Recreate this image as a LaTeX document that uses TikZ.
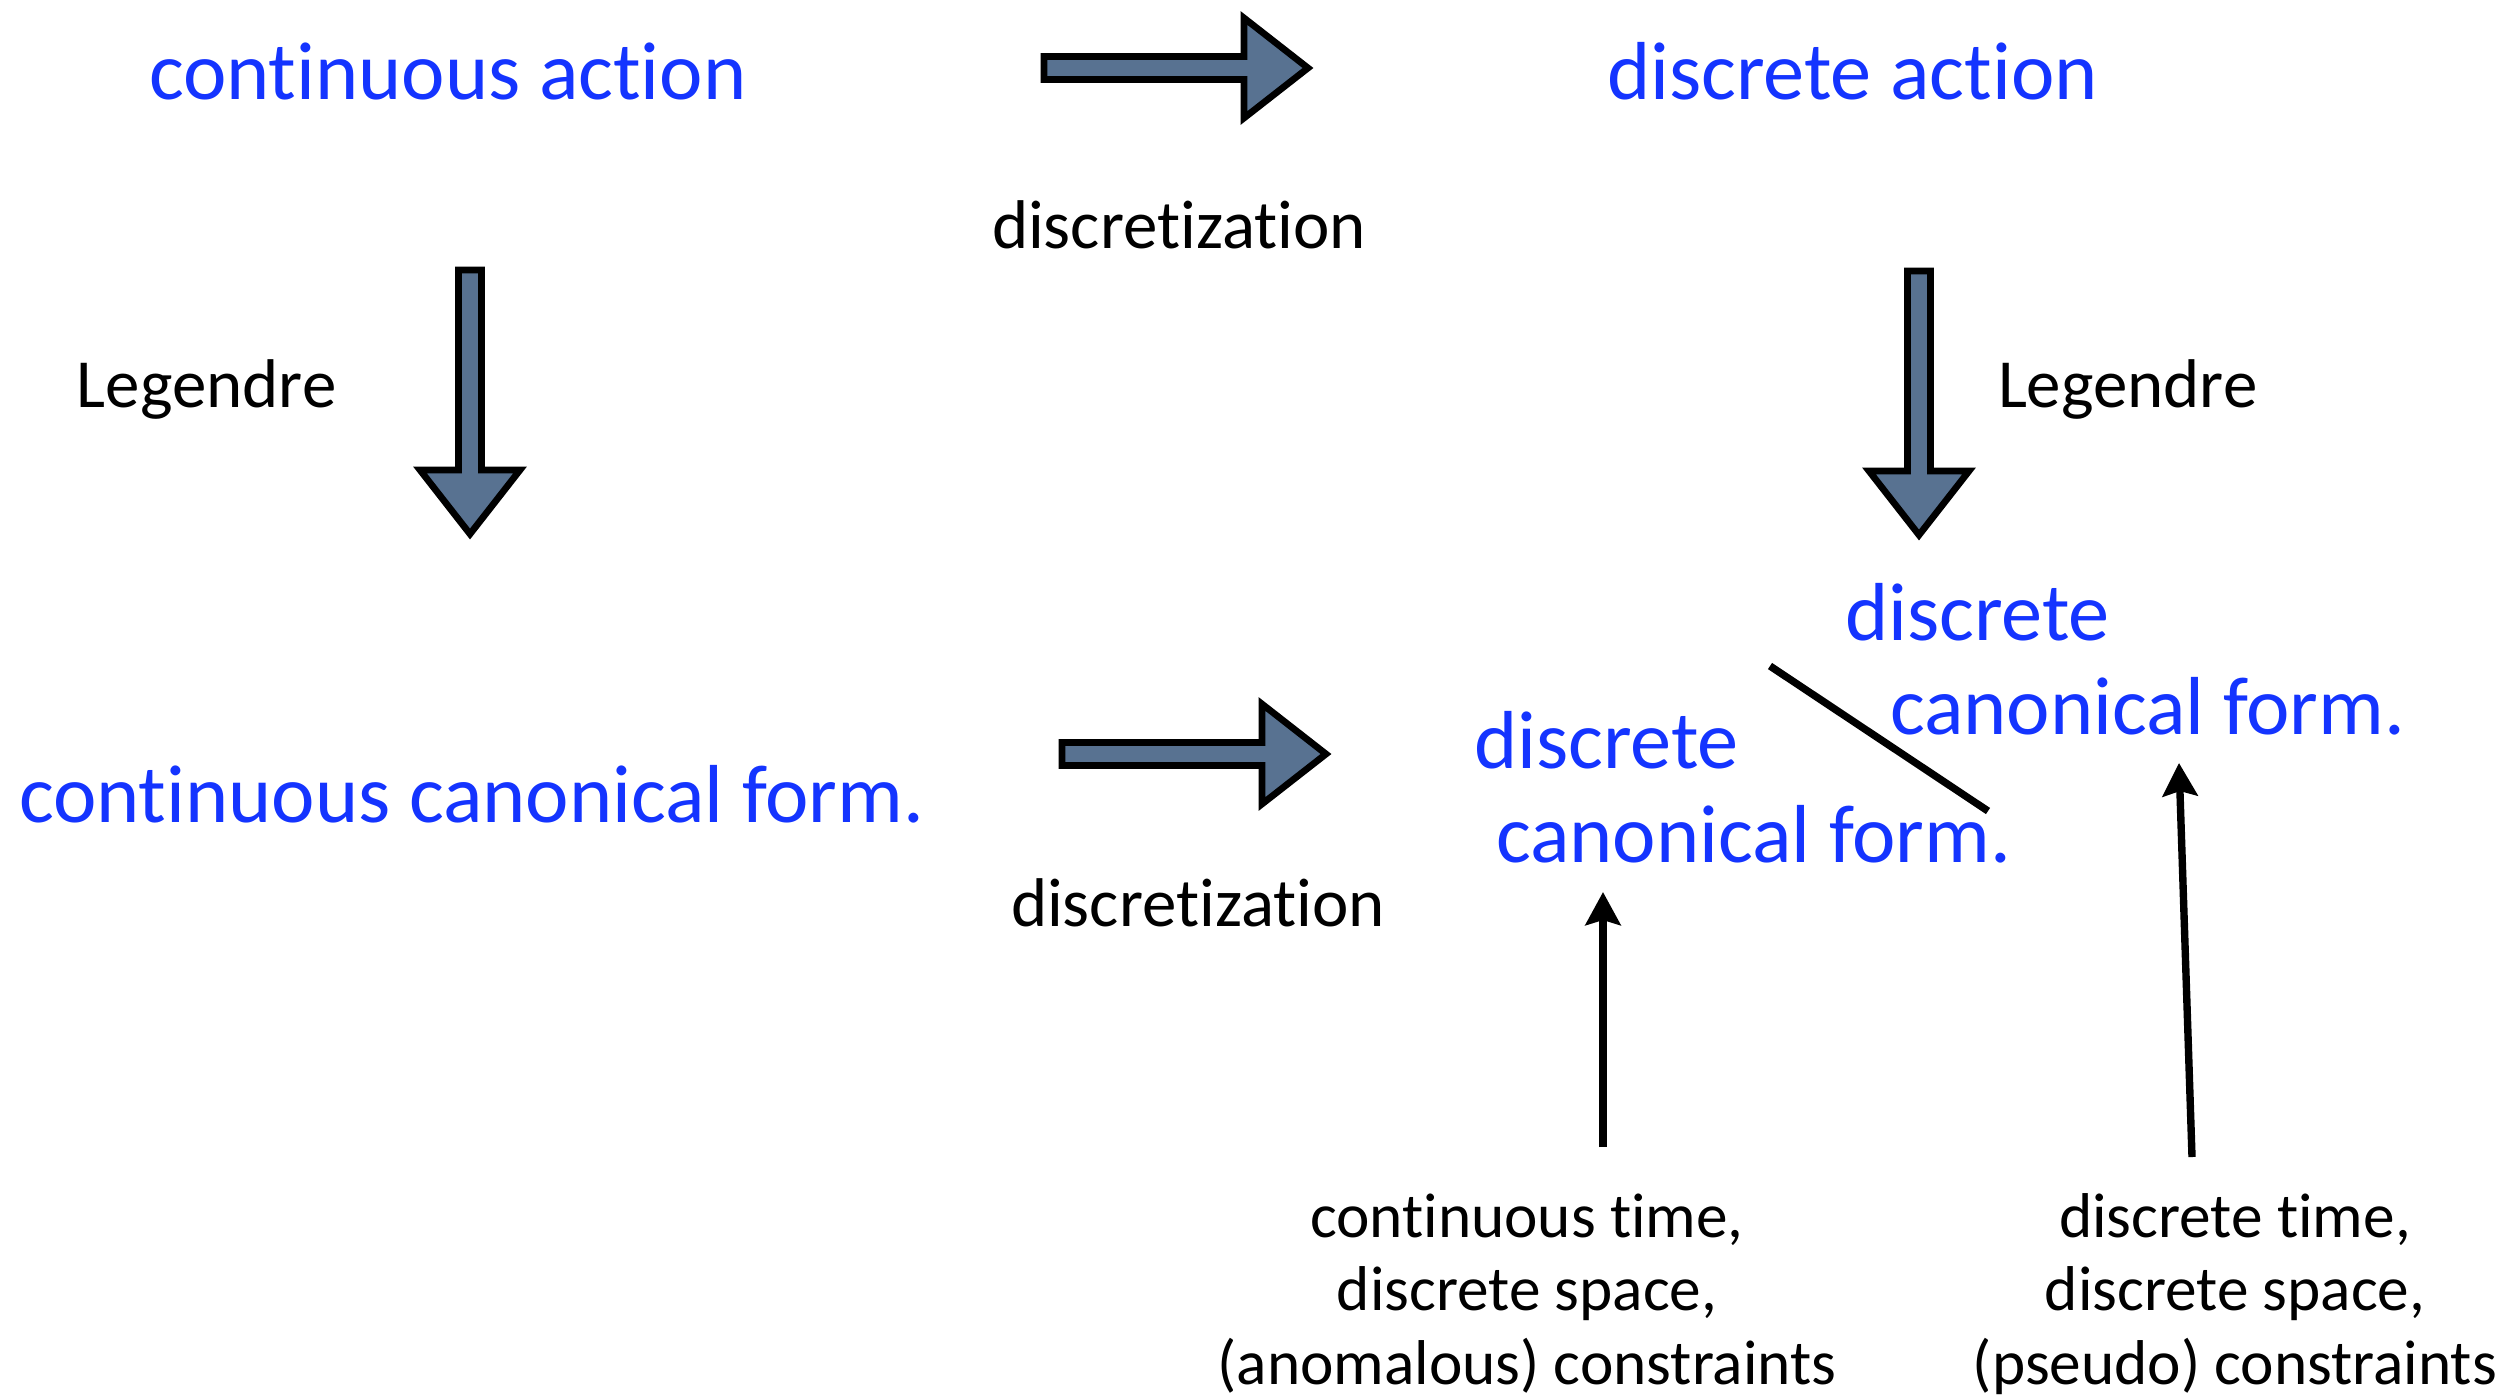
\documentclass[tikz,border=0pt]{standalone}
\usepackage{fontspec}
\setmainfont[Ligatures=NoCommon]{Carlito}
\usetikzlibrary{
    arrows.meta
}
\definecolor{formblue}{RGB}{20,52,255}
\definecolor{slate}{RGB}{88,114,145}
\tikzset{%
    blue text/.style={%
        text=formblue,
        inner sep = 0pt,
        outer sep = 0pt,
        font=\fontsize{23.4}{26.5}\selectfont,
    },
    plain text/.style={%
        text=black,
        inner sep = 0pt,
        outer sep = 0pt,
        font=\fontsize{19.6}{22}\selectfont,
    },
    note text/.style={%
        text=black,
        inner sep = 0pt,
        outer sep = 0pt,
        align=center,
        font=\fontsize{18}{20.8}\selectfont,
    },
    block arrow/.pic={%
        \draw[line width=1.9pt, fill=slate, line join=miter]
            (0,-11.5) -- (200,-11.5) -- (200,-50) -- (264,0)
            -- (200,50) -- (200,11.5) -- (0,11.5) -- cycle;
    },
    arrow/.style={%
        line width=2.1pt,
        -{Stealth[length=0.33cm, width=0.35cm, inset=0.05cm]},
    },
}

\begin{document}
\begin{tikzpicture}[x=0.01cm, y=-0.01cm]
    \useasboundingbox (0,0) rectangle (2512,1396);

    % top row
    \node[blue text, anchor=base west] (contaction) at (149,99) {continuous action};
    \node[blue text, anchor=base west] (discaction) at (1607,99) {discrete action};
    \node[plain text, anchor=base west] (topdisc) at (992,248) {discretization};

    \node[plain text, anchor=base west] (leftleg) at (77,407) {Legendre};
    \node[plain text, anchor=base west] (rightleg) at (1998,407) {Legendre};

    % canonical forms
    \node[blue text, anchor=base west] (contform) at (19,822) {continuous canonical form.};
    \node[plain text, anchor=base west] (botdisc) at (1011,926) {discretization};

    \node[blue text, anchor=base west, align=left] (discformA) at (1474,862)
        {discrete\\\hspace*{0.22cm}canonical form.};
    \node[blue text, anchor=base west, align=left] (discformB) at (1845,734)
        {discrete\\\hspace*{0.45cm}canonical form.};

    % notes
    \node[note text, anchor=base] (ctnote) at (1527,1384)
        {continuous time,\\discrete space,\\(anomalous) constraints};
    \node[note text, anchor=base] (dtnote) at (2235,1384)
        {discrete time,\\discrete space,\\(pseudo) constraints};

    % block arrows
    \pic (toparrow) at (1044,68) {block arrow};
    \pic (botarrow) at (1062,754) {block arrow};
    \pic[rotate=-90] (leftarrow) at (470,270) {block arrow};
    \pic[rotate=-90] (rightarrow) at (1919,271) {block arrow};

    % thin arrows and slash
    \coordinate (ctstart) at (1603,1147);
    \coordinate (ctend) at (1603,892);
    \coordinate (dtstart) at (2192,1157);
    \coordinate (dtend) at (2179,763);
    \draw[arrow] (ctstart) -- (ctend);
    \draw[arrow] (dtstart) -- (dtend);

    \coordinate (slashtop) at (1770,666);
    \coordinate (slashbot) at (1988,811);
    \draw[line width=2.1pt] (slashtop) -- (slashbot);
\end{tikzpicture}
\end{document}
